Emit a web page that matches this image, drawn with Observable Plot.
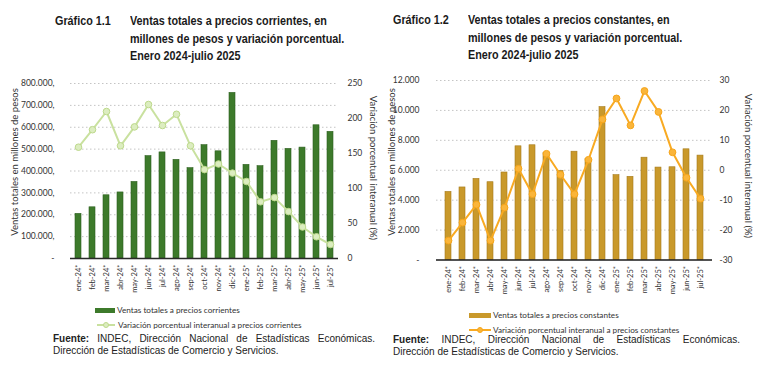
<!DOCTYPE html>
<html><head><meta charset="utf-8">
<script src="https://cdn.jsdelivr.net/npm/d3@7"></script>
<script src="https://cdn.jsdelivr.net/npm/@observablehq/plot@0.6"></script>
<style>
body{margin:0;background:#fff;}
#wrap{position:relative;width:760px;height:372px;overflow:hidden;font-family:Lato,sans-serif;background:#fff;}
.abs{position:absolute;}
.gt{font-family:"Liberation Sans",Arial,sans-serif;font-weight:bold;font-size:13.5px;line-height:17.5px;color:#1a1a1a;white-space:nowrap;transform:scaleX(0.8);transform-origin:0 0;}
.yl{font-family:Lato,sans-serif;font-size:9.5px;color:#333;white-space:nowrap;text-align:center;line-height:12px;}
.lg{font-family:Lato,sans-serif;font-size:8.2px;color:#333;white-space:nowrap;line-height:10px;}
.src{font-family:"Liberation Sans",Arial,sans-serif;font-size:10px;color:#222;line-height:12px;white-space:nowrap;}
.just{text-align:justify;text-align-last:justify;}
</style>
</head><body>
<div id="wrap"></div>
<script>
const months = ["ene-24*","feb-24*","mar-24*","abr-24*","may-24*","jun-24*","jul-24*","ago-24*","sep-24*","oct-24*","nov-24*","dic-24*","ene-25*","feb-25*","mar-25*","abr-25*","may-25*","jun-25*","jul-25*"];
const ventasCorrientes = [204000,234000,289000,302000,350000,468000,485000,451000,413000,518000,490000,757000,428000,422000,538000,501000,507000,609000,579000];
const variacionCorrientes = [159,184,210,161,188,220,190,206,161,127,135,122,110,81,87,67,45,31,20];
const ventasConstantes = [4550,4850,5420,5200,5850,7600,7670,7150,5950,7240,6750,10220,5670,5560,6840,6180,6200,7400,6980];
const variacionConstantes = [-23.5,-17.5,-11.5,-23.5,-12.5,0.5,-8,5.5,-1.5,-8,3.5,17,24,15,26.5,19.5,6,-2.5,-9.5];
const leftTicks1 = [0,100000,200000,300000,400000,500000,600000,700000,800000];
const rightTicks1 = [0,50,100,150,200,250];
const leftTicks2 = [0,2000,4000,6000,8000,10000,12000];
const rightTicks2 = [-30,-20,-10,0,10,20,30];

const wrap = document.getElementById("wrap");
function add(html){ wrap.insertAdjacentHTML("beforeend", html); }
const thou = d => d3.format(",")(d).replace(/,/g,".");

// Chart 1
const k1 = 800000/250;
const data1 = months.map((m,i)=>({m, v:ventasCorrientes[i], p:variacionCorrientes[i]}));
const p1 = Plot.plot({
  width:380, height:235, marginLeft:70, marginRight:42, marginTop:13, marginBottom:47,
  x:{domain:months, paddingInner:0.58, paddingOuter:0.29, label:null},
  y:{domain:[0,800000], label:null},
  style:{fontFamily:"Lato, sans-serif", fontSize:"8.5px", color:"#333", background:"transparent", overflow:"visible"},
  marks:[
    Plot.gridY(leftTicks1.filter(d=>d>0), {stroke:"#c4c4c4", strokeOpacity:1, strokeDasharray:"1.5,2.5"}),
    Plot.axisY(leftTicks1, {anchor:"left", tickSize:0, tickPadding:16, tickFormat:d=>d===0?"-":thou(d)+",", label:null}),
    Plot.axisY(rightTicks1.map(d=>d*k1), {anchor:"right", tickSize:0, tickPadding:9, textAnchor:"start", tickFormat:d=>String(Math.round(d/k1)), label:null}),
    Plot.axisX({tickRotate:-90, tickSize:0, tickPadding:6, fontSize:7.5, label:null}),
    Plot.barY(data1, {x:"m", y:"v", fill:"#3d7a2b", stroke:"#2e6020", strokeWidth:0.6}),
    Plot.ruleY([0], {stroke:"#2a2a2a", strokeWidth:1.5}),
    Plot.line(data1, {x:"m", y:d=>d.p*k1, stroke:"#c9e19f", strokeWidth:2}),
    Plot.dot(data1, {x:"m", y:d=>d.p*k1, r:3.3, fill:"#dcedc0", stroke:"#bdd98c", strokeWidth:1})
  ]
});
p1.style.position="absolute"; p1.style.left="0px"; p1.style.top="70px";
wrap.appendChild(p1);

// Chart 2
const toL = v => (v+30)*200;
const data2 = months.map((m,i)=>({m, v:ventasConstantes[i], p:variacionConstantes[i]}));
const p2 = Plot.plot({
  width:380, height:235, marginLeft:56, marginRight:48, marginTop:10, marginBottom:45.5,
  x:{domain:months, paddingInner:0.56, paddingOuter:0.28, label:null},
  y:{domain:[0,12000], label:null},
  style:{fontFamily:"Lato, sans-serif", fontSize:"8.5px", color:"#333", background:"transparent", overflow:"visible"},
  marks:[
    Plot.gridY(leftTicks2.filter(d=>d>0), {stroke:"#c4c4c4", strokeOpacity:1, strokeDasharray:"1.5,2.5"}),
    Plot.axisY(leftTicks2, {anchor:"left", tickSize:0, tickPadding:17, tickFormat:d=>d===0?"-":thou(d), label:null}),
    Plot.axisY(rightTicks2.map(toL), {anchor:"right", tickSize:0, tickPadding:7, textAnchor:"start", tickFormat:d=>String(Math.round(d/200-30)), label:null}),
    Plot.axisX({tickRotate:-90, tickSize:0, tickPadding:6, fontSize:7.5, label:null}),
    Plot.barY(data2, {x:"m", y:"v", fill:"#c9992b", stroke:"#a57b1c", strokeWidth:0.6}),
    Plot.ruleY([0], {stroke:"#1a1a1a", strokeWidth:1.5}),
    Plot.line(data2, {x:"m", y:d=>toL(d.p), stroke:"#f8aa22", strokeWidth:2}),
    Plot.dot(data2, {x:"m", y:d=>toL(d.p), r:3.4, fill:"#fab53a", stroke:"#f6a51a", strokeWidth:1})
  ]
});
p2.style.position="absolute"; p2.style.left="380px"; p2.style.top="70px";
wrap.appendChild(p2);

// Titles
add(`<div class="abs gt" style="left:55px;top:12px;">Gráfico 1.1</div>`);
add(`<div class="abs gt" style="left:130px;top:12px;">Ventas totales a precios corrientes, en<br>millones de pesos y variación porcentual.<br>Enero 2024-julio 2025</div>`);
add(`<div class="abs gt" style="left:393px;top:11px;">Gráfico 1.2</div>`);
add(`<div class="abs gt" style="left:468px;top:11px;">Ventas totales a precios constantes, en<br>millones de pesos y variación porcentual.<br>Enero 2024-julio 2025</div>`);

// Axis titles
function ylab(text, cx, cy, rot){
  const w = 200;
  add(`<div class="abs yl" style="width:${w}px;left:${cx-w/2}px;top:${cy-6}px;transform:rotate(${rot}deg);">${text}</div>`);
}
ylab("Ventas totales en millones de pesos", 15, 162, -90);
ylab("Variación porcentual interanual (%)", 373, 168, 90);
ylab("Ventas totales en millones de pesos", 392, 162, -90);
ylab("Variación porcentual interanual (%)", 748, 166, 90);

// Legends
add(`<div class="abs" style="left:95px;top:308px;width:20px;height:5px;background:#3d7a2b;"></div>`);
add(`<div class="abs lg" style="left:117px;top:305px;">Ventas totales a precios corrientes</div>`);
add(`<svg class="abs" style="left:95px;top:320px;" width="22" height="10"><line x1="2" x2="20" y1="5" y2="5" stroke="#c9e19f" stroke-width="2"/><circle cx="11" cy="5" r="2.5" fill="#dcedc0" stroke="#bdd98c"/></svg>`);
add(`<div class="abs lg" style="left:118px;top:320px;">Variación porcentual interanual a precios corrientes</div>`);

add(`<div class="abs" style="left:469px;top:313px;width:22px;height:5px;background:#c9992b;"></div>`);
add(`<div class="abs lg" style="left:493px;top:310px;">Ventas totales a precios constantes</div>`);
add(`<svg class="abs" style="left:468px;top:325px;" width="24" height="10"><line x1="1" x2="23" y1="5" y2="5" stroke="#f8aa22" stroke-width="2"/><circle cx="12" cy="5" r="2.5" fill="#fab53a" stroke="#f6a51a"/></svg>`);
add(`<div class="abs lg" style="left:493px;top:325px;">Variación porcentual interanual a precios constantes</div>`);

// Sources
add(`<div class="abs src just" style="left:53px;top:333px;width:322px;"><b>Fuente:</b> INDEC, Dirección Nacional de Estadísticas Económicas.</div>`);
add(`<div class="abs src" style="left:53px;top:345px;">Dirección de Estadísticas de Comercio y Servicios.</div>`);
add(`<div class="abs src just" style="left:393px;top:334px;width:347px;"><b>Fuente:</b> INDEC, Dirección Nacional de Estadísticas Económicas.</div>`);
add(`<div class="abs src" style="left:393px;top:346px;">Dirección de Estadísticas de Comercio y Servicios.</div>`);
</script>
</body></html>
